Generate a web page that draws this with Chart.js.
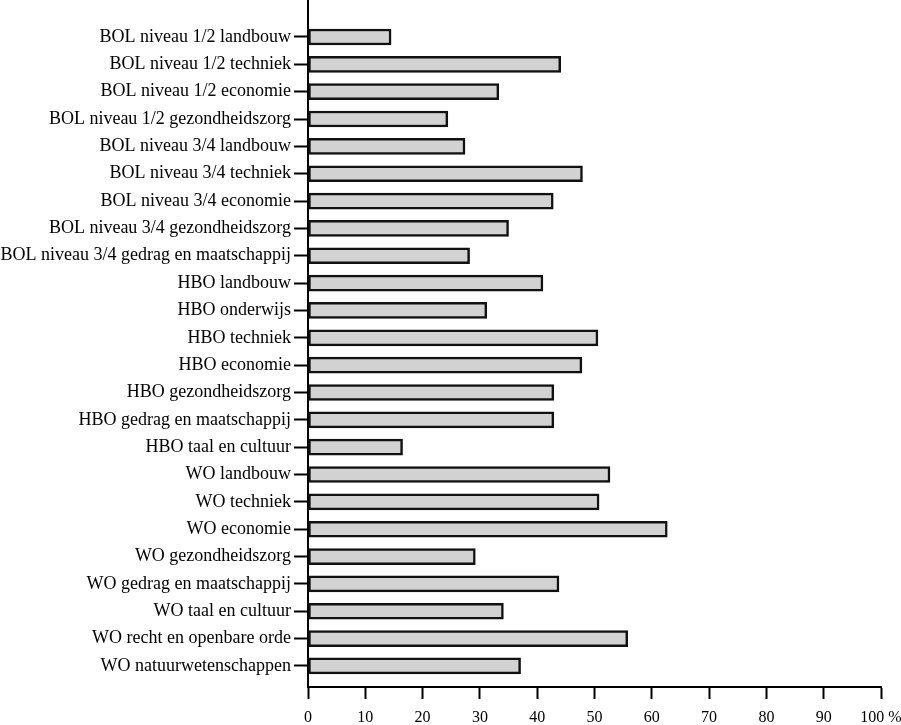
<!DOCTYPE html>
<html lang="nl">
<head>
    <meta charset="UTF-8">
    <title>Percentage per opleiding</title>
    <script src="https://cdn.jsdelivr.net/npm/chart.js"></script>
    <style>
        html, body { margin: 0; padding: 0; background: #fff; }
        .wrap { width: 901px; height: 725px; }
    </style>
</head>
<body>
    <div class="wrap">
        <canvas id="myChart" width="901" height="725"></canvas>
    </div>
<script>

// opleidingen, van boven naar beneden
var categories = [
    'BOL niveau 1/2 landbouw',
    'BOL niveau 1/2 techniek',
    'BOL niveau 1/2 economie',
    'BOL niveau 1/2 gezondheidszorg',
    'BOL niveau 3/4 landbouw',
    'BOL niveau 3/4 techniek',
    'BOL niveau 3/4 economie',
    'BOL niveau 3/4 gezondheidszorg',
    'BOL niveau 3/4 gedrag en maatschappij',
    'HBO landbouw',
    'HBO onderwijs',
    'HBO techniek',
    'HBO economie',
    'HBO gezondheidszorg',
    'HBO gedrag en maatschappij',
    'HBO taal en cultuur',
    'WO landbouw',
    'WO techniek',
    'WO economie',
    'WO gezondheidszorg',
    'WO gedrag en maatschappij',
    'WO taal en cultuur',
    'WO recht en openbare orde',
    'WO natuurwetenschappen'
];

var percentages = [
    14.5, 44.1, 33.3, 24.4, 27.4, 47.9, 42.8, 35.0, 28.2,
    41.0, 31.2, 50.6, 47.8, 42.9, 42.9, 16.5,
    52.7, 50.8, 62.7, 29.2, 43.8, 34.1, 55.8, 37.1
];

var xTickValues = [0, 10, 20, 30, 40, 50, 60, 70, 80, 90, 100];
var xTickLabels = ['0', '10', '20', '30', '40', '50', '60', '70', '80', '90', '100 %'];

Chart.defaults.font.family = "'Liberation Serif', 'Times New Roman', serif";
Chart.defaults.color = '#000';

var points = categories.map(function (c, i) {
    return { x: percentages[i], y: i };
});

var data = {
    datasets: [{
        label: 'Percentage',
        data: points,
        backgroundColor: '#d2d2d2',
        borderColor: '#111',
        borderWidth: 2.5,
        borderSkipped: false,
        barThickness: 16
    }]
};

var config = {
    type: 'bar',
    data: data,
    options: {
        indexAxis: 'y',
        responsive: false,
        animation: false,
        layout: { padding: 0 },
        plugins: {
            legend: { display: false },
            tooltip: { enabled: false }
        },
        scales: {
            y: {
                type: 'linear',
                reverse: true,
                offset: false,
                min: -1.353,
                max: 23.77,
                afterBuildTicks: function (s) {
                    s.ticks = categories.map(function (c, i) { return { value: i }; });
                },
                afterFit: function (s) {
                    s.width = 308;
                    s.paddingTop = 0;
                    s.paddingBottom = 0;
                },
                ticks: {
                    autoSkip: false,
                    padding: 3,
                    font: { size: 18 },
                    callback: function (v) { return categories[v]; }
                },
                grid: {
                    offset: false,
                    drawOnChartArea: false,
                    tickLength: 14,
                    tickWidth: 2,
                    tickColor: '#000'
                },
                border: { color: '#000', width: 2 }
            },
            x: {
                type: 'linear',
                min: 0,
                max: 100,
                afterBuildTicks: function (s) {
                    s.ticks = xTickValues.map(function (v) { return { value: v }; });
                },
                afterFit: function (s) {
                    s.height = 38;
                    s.paddingRight = 20;
                    s.paddingLeft = 0;
                },
                ticks: {
                    autoSkip: false,
                    maxRotation: 0,
                    padding: 9,
                    font: { size: 16 },
                    callback: function (v) {
                        return xTickLabels[xTickValues.indexOf(v)];
                    }
                },
                grid: {
                    drawOnChartArea: false,
                    tickLength: 12,
                    tickWidth: 2,
                    tickColor: '#000'
                },
                border: { color: '#000', width: 2 }
            }
        }
    }
};

var myChart = new Chart(
    document.getElementById('myChart'),
    config
);

</script>
</body>
</html>
